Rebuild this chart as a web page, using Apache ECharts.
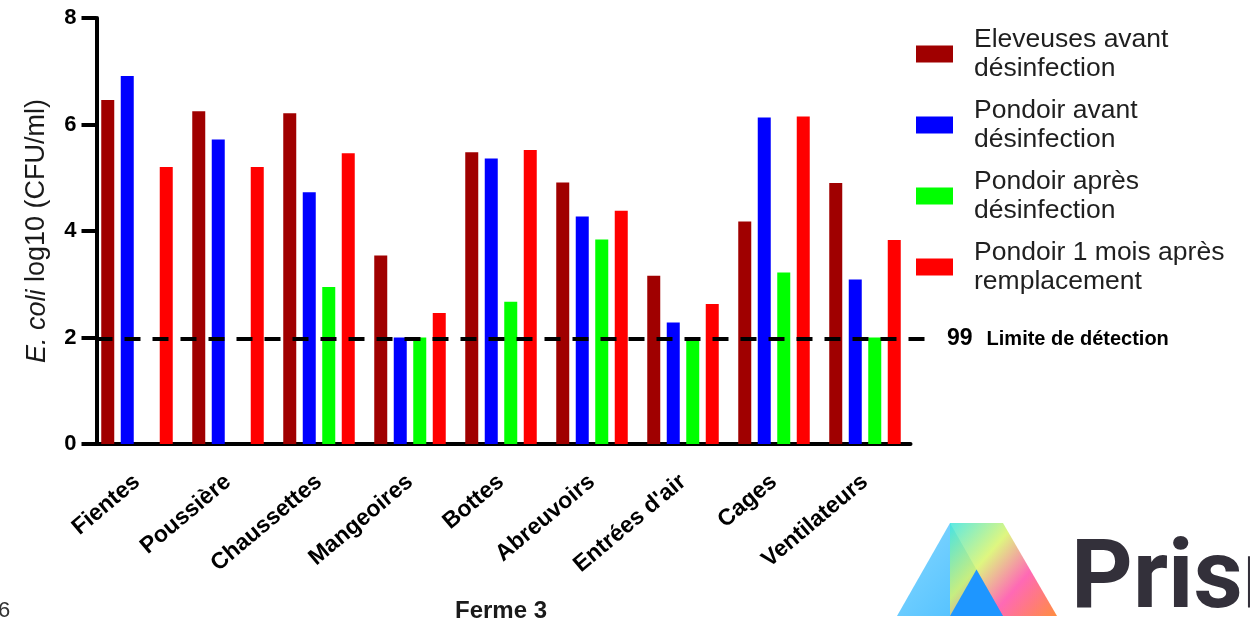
<!DOCTYPE html>
<html>
<head>
<meta charset="utf-8">
<script src="https://cdn.jsdelivr.net/npm/echarts@6/dist/echarts.min.js"></script>
<style>html,body{margin:0;padding:0;background:#fff;}#c{width:1250px;height:621px;}</style>
</head>
<body>
<div id="c"></div>
<script>
const categories = ['Fientes','Poussière','Chaussettes','Mangeoires','Bottes','Abreuvoirs',"Entrées d'air",'Cages','Ventilateurs'];
const seriesNames = ['Eleveuses avant\ndésinfection','Pondoir avant\ndésinfection','Pondoir après\ndésinfection','Pondoir 1 mois après\nremplacement'];
const eleveusesAvant = [6.46, 6.25, 6.21, 3.54, 5.48, 4.91, 3.16, 4.18, 4.90];
const pondoirAvant   = [6.91, 5.72, 4.73, 2.00, 5.36, 4.27, 2.28, 6.13, 3.09];
const pondoirApres   = [null, null, 2.95, 2.00, 2.67, 3.84, 2.00, 3.22, 2.00];
const pondoir1Mois   = [5.20, 5.20, 5.46, 2.46, 5.52, 4.38, 2.63, 6.15, 3.83];
const yTicks = [0, 2, 4, 6, 8];
const detectionLimit = 1.97;
const colors = ['#A00000', '#0000FF', '#00FF00', '#FF0000'];

const chart = echarts.init(document.getElementById('c'), null, {renderer: 'canvas'});
const values = [eleveusesAvant, pondoirAvant, pondoirApres, pondoir1Mois];
const FONT = 'Liberation Sans, Arial, sans-serif';

const barSeries = values.map((v, i) => ({
  name: seriesNames[i],
  type: 'bar',
  xAxisIndex: 0,
  yAxisIndex: 0,
  data: v,
  barWidth: 13,
  barGap: '50%',
  itemStyle: {color: colors[i]},
  emphasis: {disabled: true}
}));

const option = {
  animation: false,
  textStyle: {fontFamily: FONT},
  grid: [
    {left: 91.5, width: 819, top: 18, bottom: 177, containLabel: false, outerBoundsMode: 'none'},
    {left: 96.5, width: 838.5, top: 18, bottom: 177, containLabel: false, outerBoundsMode: 'none'}
  ],
  legend: {
    data: seriesNames,
    orient: 'vertical',
    left: 916,
    top: 25,
    padding: 0,
    itemWidth: 37,
    itemHeight: 17,
    itemGap: 13,
    icon: 'rect',
    selectedMode: false,
    textStyle: {fontSize: 26.5, lineHeight: 29, color: '#1f1f1f', fontFamily: FONT, padding: [0, 0, 0, 16]}
  },
  xAxis: [
    {
      type: 'category',
      gridIndex: 0,
      data: categories,
      axisLine: {lineStyle: {color: '#000', width: 4}},
      axisTick: {alignWithLabel: true, length: 13, lineStyle: {color: '#000', width: 4}},
      axisLabel: {rotate: 40, margin: 35, fontSize: 23, fontWeight: 'bold', color: '#000', fontFamily: FONT},
      name: 'Ferme 3',
      nameLocation: 'middle',
      nameGap: 155,
      nameTextStyle: {fontSize: 24, fontWeight: 'bold', color: '#1a1a1a', fontFamily: FONT}
    },
    {type: 'value', gridIndex: 1, min: 0, max: 1, show: false}
  ],
  yAxis: [
    {
      type: 'value',
      gridIndex: 0,
      min: yTicks[0],
      max: yTicks[yTicks.length - 1],
      interval: 2,
      offset: -5,
      axisLine: {show: true, lineStyle: {color: '#000', width: 4}},
      axisTick: {show: true, length: 15, lineStyle: {color: '#000', width: 4}},
      splitLine: {show: false},
      axisLabel: {fontSize: 22, fontWeight: 'bold', color: '#000', margin: 20, fontFamily: FONT},
      name: '{i|E. coli} log10 (CFU/ml)',
      nameLocation: 'middle',
      nameGap: 46,
      nameRotate: 90,
      nameTextStyle: {
        fontSize: 27, color: '#1a1a1a', fontFamily: FONT,
        rich: {i: {fontSize: 27, fontStyle: 'italic', color: '#1a1a1a', fontFamily: FONT}}
      }
    },
    {type: 'value', gridIndex: 1, min: 0, max: 8, show: false}
  ],
  series: barSeries.concat([{
    name: 'LOD',
    type: 'line',
    xAxisIndex: 1,
    yAxisIndex: 1,
    data: [],
    z: 10,
    markLine: {
      silent: true,
      symbol: 'none',
      z: 10,
      lineStyle: {color: '#000', width: 4, type: [16, 12]},
      label: {
        show: true,
        position: 'end',
        distance: 12,
        formatter: '{a|99}{b|Limite de détection}',
        rich: {
          a: {fontSize: 23, fontWeight: 'bold', color: '#000', fontFamily: FONT, padding: [0, 14, 0, 0]},
          b: {fontSize: 20, fontWeight: 'bold', color: '#000', fontFamily: FONT}
        }
      },
      emphasis: {disabled: true},
      data: [{yAxis: detectionLimit}]
    }
  }]),
  graphic: [
    {type: 'text', left: -2, top: 600, style: {text: '6', fontSize: 22, fill: '#333', fontFamily: FONT}},
    {type: 'polygon', shape: {points: [[897,616],[950,523],[1003,616]]},
      style: {fill: new echarts.graphic.LinearGradient(0,0,1,1,[{offset:0,color:'#86d8ff'},{offset:1,color:'#45bbff'}])}},
    {type: 'polygon', shape: {points: [[950,523],[1003,523],[1057,616],[950,616]]},
      style: {opacity: 0.85, fill: new echarts.graphic.LinearGradient(0,0,1,1,[{offset:0,color:'#3fe6e0'},{offset:0.35,color:'#d9f56a'},{offset:0.65,color:'#ff4fa8'},{offset:1,color:'#ff7a1e'}])}},
    {type: 'polygon', shape: {points: [[950,616],[1003,616],[976.5,569.5]]}, style: {fill: '#1e96ff'}},
    {type: 'text', left: 1071, top: 535, style: {text: 'Prism', fontSize: 96, fontWeight: 'bold', fill: '#33303a', fontFamily: 'Roboto, Liberation Sans, sans-serif'}}
  ]
};
chart.setOption(option);
</script>
</body>
</html>
